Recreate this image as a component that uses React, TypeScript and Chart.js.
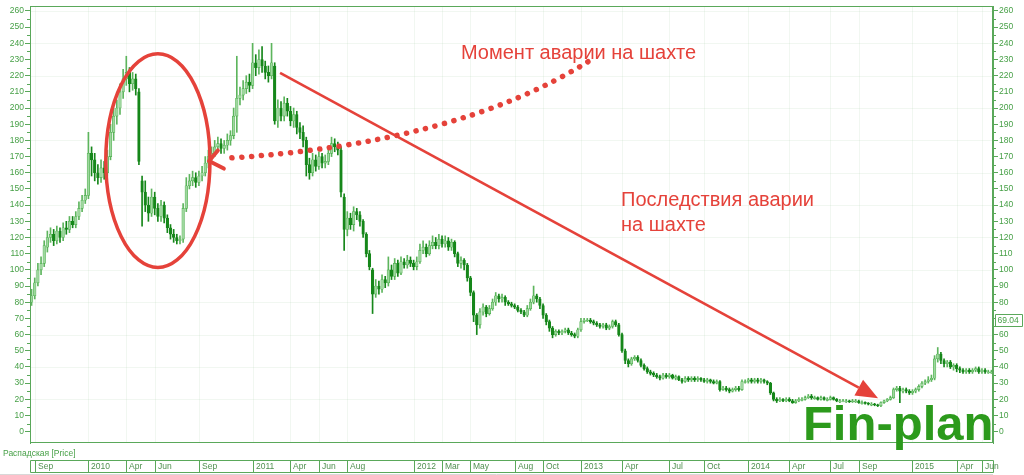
import React, { useEffect, useRef } from 'react';
import { Chart, registerables } from 'chart.js';

Chart.register(...registerables);

// Weekly OHLC of Распадская (Sep 2009 – Jun 2015)
const openP = [
  80,84,92,100,104,114,120,122,118,124,
  120,126,125,130,128,133,138,143,146,172,
  168,160,157,163,160,170,185,195,200,210,
  218,222,215,218,210,155,148,140,135,145,
  138,133,140,132,126,122,120,118,119,138,
  152,155,157,154,158,160,166,170,172,176,
  178,175,177,180,183,195,206,208,212,216,
  214,228,225,230,226,222,220,226,192,200,
  195,203,198,192,196,188,185,180,165,160,
  168,164,170,166,167,172,178,176,174,145,
  125,132,128,136,134,130,122,110,100,85,
  90,88,94,92,100,96,104,98,105,103,
  106,104,102,105,112,114,110,115,117,115,
  119,116,118,114,117,110,104,106,103,95,
  86,72,66,74,77,73,76,80,84,82,
  83,80,79,78,77,75,74,72,76,80,
  84,82,78,72,68,64,60,62,61,62,
  63,61,60,59,63,68,69,69,68,67,
  66,65,66,64,65,68,66,60,50,44,
  42,45,46,44,41,39,37,36,35,34,
  33,35,34,35,33,34,32,31,33,32,
  33,32,33,32,31,32,31,30,31,26,
  27,26,25,26,27,26,31,31,32,31,
  32,31,32,31,30,24,20,19,20,19,
  20,19,18,19,20,20,21,22,21,21,
  20,21,20,20,21,20,19,19,19,19,
  18.5,19,19,18,18,17.5,17,17,16.5,16,
  18,19,20,21,26,27,25,26,25,24,
  25,26,28,30,31,32,33,45,48,44,
  42,43,40,41,39,38,37,38,37,38,
  39,37,38,37,37
];
const highP = [
  88,95,104,108,118,124,126,125,127,126,
  129,130,133,133,136,142,146,150,185,176,
  172,165,168,167,174,190,200,205,215,224,
  232,225,222,221,212,158,155,145,150,148,
  141,143,142,134,128,125,122,121,141,157,
  159,161,160,161,164,170,174,176,180,182,
  181,180,184,186,200,232,213,217,220,221,
  240,233,236,238,229,226,240,228,205,204,
  207,206,201,200,198,191,189,182,169,172,
  171,173,172,171,176,182,181,179,176,147,
  136,135,139,138,136,131,123,112,101,94,
  93,97,96,108,103,107,106,108,107,109,
  108,106,108,116,118,116,118,121,120,122,
  121,121,120,119,118,111,108,107,104,96,
  87,73,76,79,78,78,82,86,85,85,
  84,81,80,79,78,76,75,78,82,90,
  85,83,79,73,69,65,63,63,63,64,
  64,62,61,64,70,70,70,70,69,68,
  67,67,67,66,69,69,67,61,51,45,
  46,47,47,45,42,40,38,37,36,35,
  36,36,36,35.5,35,34.5,33,34,34,34,
  34,34,33.5,33,33,32.5,32,32,31.5,28,
  28,27,27,28,28,32,32,33,33,33,
  33,33,32.5,31.5,30.5,24.5,21,21,20.5,21,
  21,20,20,21,21,22,23,23,22,21.5,
  22,21.5,21,22,21.5,20.5,20,20,20,19.5,
  20,20,19.5,19,18.5,18,18,17.5,17,18.5,
  19.5,20.5,22,27,28,28,27,27,26,26,
  27,29,31,32,34,35,47,52,49,45,
  44,44,42,42,40,39,39,39,39,40,
  40,39,39,38,38
];
const lowP = [
  78,82,90,97,102,111,117,115,116,117,
  118,122,123,126,126,131,136,141,144,158,
  155,153,154,156,158,168,180,190,196,206,
  214,210,211,208,165,127,136,130,133,134,
  130,130,129,123,119,117,116,116,117,136,
  150,152,151,152,155,158,163,167,170,173,
  172,172,174,177,181,185,202,205,209,210,
  212,220,221,222,218,216,218,190,188,192,
  192,195,189,188,184,181,176,158,156,158,
  161,162,163,163,165,170,173,171,145,112,
  121,125,124,131,127,120,108,100,73,83,
  85,86,89,90,94,94,96,97,101,101,
  102,100,100,104,110,108,109,113,113,113,
  114,114,112,112,108,102,101,100,93,84,
  68,60,64,72,71,72,75,78,80,80,
  78,78,77,76,74,73,71,71,75,79,
  80,76,70,66,62,58,59,60,60,61,
  60,59,58,58,62,67,68,67,66,65,
  64,64,63,63,64,65,59,49,42,40,
  41,44,43,40,38,36,35,34,33,32,
  32.5,33,33,32.5,32,31.5,30,30.5,31,31,
  31,31,31,30.5,30,30,29.5,29.5,25,25.5,
  25,24,24.5,25,25,25.5,30,30,30,30,
  30,30,30,29,23,19,18,18.5,18.5,18.5,
  18.5,17.5,17.5,18.5,19,19.5,20.5,20,20,19.5,
  19.5,19.5,19,19.5,19.5,18.5,18,18.5,18,18,
  18,18,17.5,17,17,16.5,16,16,15.5,15.5,
  17.5,18.5,19.5,20.5,25,18,24,24,23,23,
  24,25,27,29,30,31,32,43,42,40,
  40,39,38,37,36.5,36,36,36,36,37,
  36,36,36,36,36
];
const closeP = [
  84,92,100,104,115,120,122,118,124,120,
  126,125,130,128,133,138,143,146,172,168,
  160,157,163,160,170,185,195,200,210,218,
  222,215,218,212,167,148,140,135,145,138,
  133,140,132,126,122,120,118,119,138,152,
  155,157,154,158,160,166,170,172,176,178,
  175,177,180,183,195,206,208,212,216,214,
  228,225,230,226,222,220,228,192,200,195,
  203,198,192,196,188,185,180,165,160,168,
  164,170,166,167,172,178,176,174,148,125,
  132,128,136,134,130,122,110,102,85,90,
  88,94,92,100,96,104,98,105,103,106,
  104,102,105,112,114,110,115,117,115,119,
  116,118,114,117,110,104,106,103,95,86,
  72,66,74,77,73,76,80,84,82,83,
  80,79,78,77,75,74,72,76,80,84,
  82,78,72,68,64,60,62,61,62,63,
  61,60,59,63,68,69,69,68,67,66,
  65,66,64,65,68,66,60,50,44,42,
  45,46,44,41,39,37,36,35,34,33,
  35,34,35,33,34,32,31,33,32,33,
  32,33,32,31,32,31,30,31,26,27,
  26,25,26,27,26,31,31,32,31,32,
  31,32,31,30,24,20,19,20,19,20,
  19,18,19,20,20,21,22,21,21,20,
  21,20,20,21,20,19,19,19,19,18.5,
  19,19,18,18,17.5,17,17,16.5,16,18,
  19,20,21,26,27,25,26,25,24,25,
  26,28,30,31,32,33,45,48,44,42,
  43,40,41,39,38,37,38,37,38,39,
  37,38,37,37,37
];

// Week categories (Mondays)
const weekLabels = openP.map((_, i) => new Date(Date.UTC(2009, 8, 7 + 7 * i)).toISOString().slice(0, 10));

// Time-bar labels and the week index where each starts
const timeMarkIdx = [1, 18, 30, 39, 53, 70, 82, 91, 100, 121, 130, 139, 153, 162, 174, 187, 202, 213, 227, 240, 253, 262, 279, 293, 301];
const timeMarkText = ['Sep', '2010', 'Apr', 'Jun', 'Sep', '2011', 'Apr', 'Jun', 'Aug', '2012', 'Mar', 'May', 'Aug', 'Oct', '2013', 'Apr', 'Jul', 'Oct', '2014', 'Apr', 'Jul', 'Sep', '2015', 'Apr', 'Jun'];

// Price axis ticks
const yTickValues = [0, 10, 20, 30, 40, 50, 60, 70, 80, 90, 100, 110, 120, 130, 140, 150, 160, 170, 180, 190, 200, 210, 220, 230, 240, 250, 260];
const yGridValues = [20, 40, 60, 80, 100, 120, 140, 160, 180, 200, 220, 240, 260];

const seriesName = 'Распадская [Price]';
const lastPriceLabel = '69.04';
const lastPriceValue = 69.04;

const noteAccident = 'Момент аварии на шахте';
const noteAftermath = ['Последствия аварии', 'на шахте'];
const watermark = 'Fin-plan';

const GREEN_AXIS = '#5aa85a';
const GREEN_TEXT = '#47a047';
const RED = '#e5423a';
const FONT = '"Liberation Sans", Arial, sans-serif';

const overlayPlugin = {
  id: 'overlay',
  beforeDatasetsDraw(chart: any) {
    const { ctx, chartArea: a, scales } = chart;
    const xs = scales.x, ys = scales.y;
    ctx.save();
    ctx.strokeStyle = 'rgba(100,170,100,0.09)';
    ctx.lineWidth = 1;
    ctx.beginPath();
    for (const v of yGridValues) {
      const py = Math.round(ys.getPixelForValue(v)) + 0.5;
      ctx.moveTo(a.left, py); ctx.lineTo(a.right, py);
    }
    for (const k of timeMarkIdx) {
      const px = Math.round(xs.getPixelForValue(k)) + 0.5;
      ctx.moveTo(px, a.top); ctx.lineTo(px, a.bottom);
    }
    ctx.stroke();
    ctx.restore();
  },
  afterDraw(chart: any) {
    const { ctx, chartArea: a, scales } = chart;
    const xs = scales.x, ys = scales.y;
    const px = (k: number) => xs.getPixelForValue(k);
    const py = (p: number) => ys.getPixelForValue(p);
    ctx.save();

    // plot frame
    ctx.strokeStyle = GREEN_AXIS;
    ctx.lineWidth = 1;
    ctx.strokeRect(Math.round(a.left) + 0.5, Math.round(a.top) + 0.5, Math.round(a.right - a.left) - 1, Math.round(a.bottom - a.top) - 1);

    // minor ticks
    ctx.beginPath();
    for (let v = 5; v <= 255; v += 10) {
      const y = Math.round(py(v)) + 0.5;
      ctx.moveTo(a.left - 3, y); ctx.lineTo(a.left, y);
      ctx.moveTo(a.right, y); ctx.lineTo(a.right + 3, y);
    }
    ctx.stroke();

    // ellipse around crash
    ctx.strokeStyle = RED;
    ctx.lineWidth = 3.5;
    const ecx = px(40), ecy = py(167.5);
    const erx = Math.abs(px(56.5) - ecx), ery = Math.abs(py(233.5) - ecy);
    ctx.beginPath();
    ctx.ellipse(ecx, ecy, erx, ery, 0, 0, Math.PI * 2);
    ctx.stroke();

    // dotted curved arrow
    ctx.fillStyle = RED;
    ctx.lineCap = 'round';
    ctx.lineWidth = 5.5;
    ctx.setLineDash([0.1, 9.7]);
    ctx.beginPath();
    ctx.moveTo(px(176.2), py(228.6));
    ctx.quadraticCurveTo(px(134.1), py(177.5), px(60.9), py(168.9));
    ctx.stroke();
    ctx.setLineDash([]);
    ctx.lineWidth = 4;
    ctx.lineJoin = 'round';
    ctx.beginPath();
    ctx.moveTo(px(59.0), py(173.8));
    ctx.lineTo(px(56.2), py(167.3));
    ctx.lineTo(px(60.9), py(162.6));
    ctx.stroke();

    // straight arrow
    const x1 = px(78.7), y1 = py(221.8), x2 = px(268.1), y2 = py(20.7);
    const ang = Math.atan2(y2 - y1, x2 - x1);
    const headL = 22, headW = 9;
    const bx = x2 - headL * Math.cos(ang), by = y2 - headL * Math.sin(ang);
    ctx.lineCap = 'butt';
    ctx.lineWidth = 2.6;
    ctx.beginPath();
    ctx.moveTo(x1, y1); ctx.lineTo(bx, by);
    ctx.stroke();
    ctx.beginPath();
    ctx.moveTo(x2, y2);
    ctx.lineTo(bx + headW * Math.sin(ang), by - headW * Math.cos(ang));
    ctx.lineTo(bx - headW * Math.sin(ang), by + headW * Math.cos(ang));
    ctx.closePath();
    ctx.fill();

    // notes
    ctx.font = `20px ${FONT}`;
    ctx.textAlign = 'left';
    ctx.textBaseline = 'middle';
    ctx.fillText(noteAccident, px(136.0), py(233.5));
    ctx.fillText(noteAftermath[0], px(186.7), py(143.1));
    ctx.fillText(noteAftermath[1], px(186.7), py(127.7));

    // watermark
    ctx.fillStyle = '#2c9a1c';
    ctx.font = `bold 49px ${FONT}`;
    ctx.textBaseline = 'alphabetic';
    ctx.fillText(watermark, px(244.3), py(-5.2));

    // series name
    ctx.fillStyle = GREEN_TEXT;
    ctx.font = `8.5px ${FONT}`;
    ctx.textBaseline = 'middle';
    ctx.fillText(seriesName, 3, a.bottom + 10.5);

    // last price box
    const lpY = py(lastPriceValue);
    ctx.fillStyle = '#ffffff';
    ctx.fillRect(a.right + 2.5, lpY - 6, 27, 12);
    ctx.strokeStyle = GREEN_AXIS;
    ctx.lineWidth = 1;
    ctx.strokeRect(a.right + 2.5, Math.round(lpY - 6) + 0.5, 27, 12);
    ctx.fillStyle = GREEN_TEXT;
    ctx.fillText(lastPriceLabel, a.right + 4.5, lpY + 0.5);

    // time bar
    const tTop = a.bottom + 17.5, tH = 12;
    ctx.strokeStyle = GREEN_AXIS;
    ctx.strokeRect(Math.round(a.left) + 0.5, tTop, Math.round(a.right - a.left), tH);
    ctx.beginPath();
    timeMarkIdx.forEach((k) => {
      const x = Math.round(px(k)) + 0.5;
      ctx.moveTo(x, tTop); ctx.lineTo(x, tTop + tH);
    });
    ctx.stroke();
    ctx.fillStyle = '#4f8f4f';
    ctx.font = `8.5px ${FONT}`;
    timeMarkIdx.forEach((k, i) => {
      ctx.fillText(timeMarkText[i], Math.round(px(k)) + 3, tTop + tH / 2 + 0.5);
    });
    ctx.strokeStyle = '#d8d8d8';
    ctx.beginPath();
    ctx.moveTo(0, tTop + tH + 2); ctx.lineTo(a.right, tTop + tH + 2);
    ctx.stroke();

    ctx.restore();
  },
};

const UP_FILL = '#9ed79e';
const UP_EDGE = '#4caf4c';
const DOWN_FILL = '#16871a';

export default function App() {
  const ref = useRef<HTMLCanvasElement>(null);
  useEffect(() => {
    const isUp = (i: number) => closeP[i] >= openP[i];
    const yBase: any = {
      min: -7,
      max: 263,
      afterBuildTicks: (s: any) => { s.ticks = yTickValues.map((v) => ({ value: v })); },
      ticks: { color: GREEN_TEXT, font: { size: 8.5, family: FONT }, padding: 1 },
      grid: { drawOnChartArea: false, tickLength: 5, tickColor: GREEN_AXIS, color: GREEN_AXIS },
      border: { color: GREEN_AXIS, width: 1 },
    };
    const chart = new Chart(ref.current as HTMLCanvasElement, {
      type: 'bar',
      data: {
        labels: weekLabels,
        datasets: [
          {
            label: 'body',
            data: openP.map((o, i) => [o, closeP[i]]) as any,
            backgroundColor: (c: any) => (isUp(c.dataIndex) ? UP_FILL : DOWN_FILL),
            borderColor: (c: any) => (isUp(c.dataIndex) ? UP_EDGE : DOWN_FILL),
            borderWidth: 0.6,
            borderSkipped: false,
            barThickness: 2.6,
            minBarLength: 1,
            grouped: false,
            order: 0,
            yAxisID: 'y',
          } as any,
          {
            label: 'wick',
            data: lowP.map((l, i) => [l, highP[i]]) as any,
            backgroundColor: (c: any) => (isUp(c.dataIndex) ? '#5db55d' : DOWN_FILL),
            borderWidth: 0,
            barThickness: 1,
            grouped: false,
            order: 1,
            yAxisID: 'y',
          } as any,
        ],
      },
      options: {
        animation: false,
        responsive: true,
        maintainAspectRatio: false,
        events: [],
        layout: { padding: { left: 0, right: 0, top: 4, bottom: 32 } },
        plugins: { legend: { display: false }, tooltip: { enabled: false } },
        scales: {
          x: { display: false, offset: true },
          y: { ...yBase, position: 'left', afterFit: (s: any) => { s.width = 30; } },
          y2: { ...yBase, position: 'right', afterFit: (s: any) => { s.width = 31; } },
        },
      } as any,
      plugins: [overlayPlugin],
    });
    return () => chart.destroy();
  }, []);
  return (
    <div style={{ position: 'absolute', left: 0, top: 0, width: 1024, height: 475, background: '#fff' }}>
      <canvas ref={ref} />
    </div>
  );
}
